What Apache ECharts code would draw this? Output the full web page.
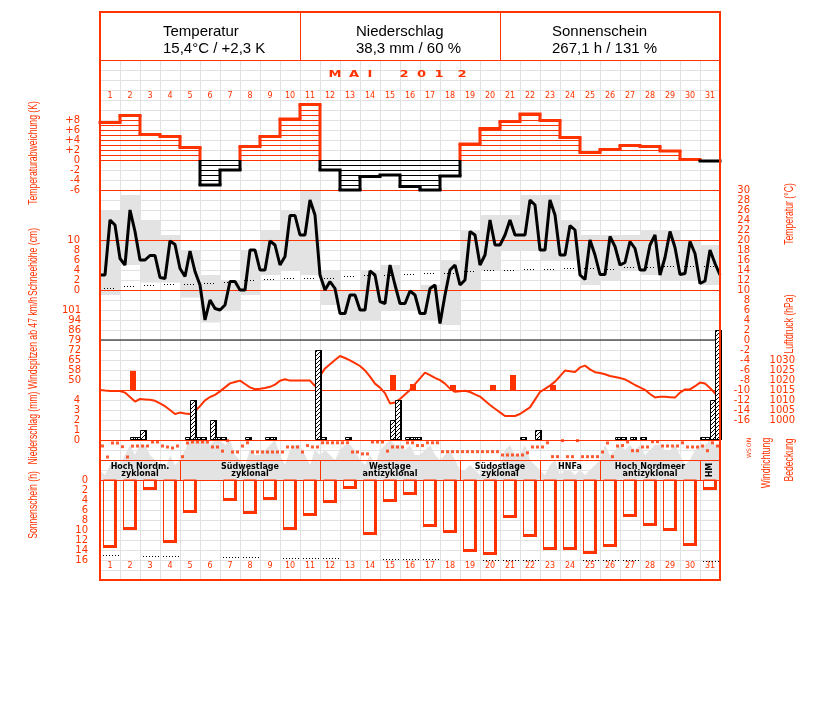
<!DOCTYPE html>
<html><head><meta charset="utf-8">
<script src="https://cdn.jsdelivr.net/npm/echarts/dist/echarts.min.js"></script>
<style>html,body{margin:0;padding:0;background:#fff;}#chart{width:827px;height:702px;}</style>
</head><body><div id="chart"></div>
<script>
// ================= DATA =================
const dayLabels = ['1','2','3','4','5','6','7','8','9','10','11','12','13','14','15','16','17','18','19','20','21','22','23','24','25','26','27','28','29','30','31'];
const yAnomalyTicks = ['+8','+6','+4','+2','0','-2','-4','-6'];
// daily temperature anomaly (K)
const anomaly = [7.5,8.9,5.1,4.7,2.5,-5.0,-2.0,2.7,4.7,8.2,11.1,-2.0,-6.0,-3.3,-3.0,-5.3,-6.0,-3.2,3.2,6.3,7.7,9.2,7.9,4.5,1.5,2.1,2.9,2.7,1.8,0.1,-0.2];
// 6-hourly air temperature (°C), 0h/6h/12h/18h per day, plus 1 June 0h
const temp6h = [
 13,13,24,23, 16.3,15,26,21.7, 16,16,16.9,16.9, 12.5,12.3,19.8,19.1, 14.3,12.7,17.8,13.7,
 11,4,8,6.3, 6,7,11.7,11.7, 10,10,18,18, 14,14,19.8,19, 15,16.7,24.9,24.9,
 21,21,28,25, 13,10,11.7,10.3, 5.3,5.3,9,9, 6,6,13.8,13, 7.7,7.3,15,11,
 7.3,7.3,9.8,9, 5.3,5.3,10.3,11, 3.3,9,14,15, 11,12,21.7,21, 15,17,24,19,
 19,21,24,21, 21,21,28,27, 18,18,28,25, 17,17,22.9,22, 13,12.1,20,17,
 13.1,13.1,20.7,18.7, 15,15.5,19.7,18.3, 14,14,19,21, 13,16.5,21.7,18.5, 13.1,13.3,19.7,17.3,
 11.3,11.8,18,15.3, 13];
// climatological daily mean (°C), dotted marks
const tempNormal = [10.5,10.9,11,11.2,11.3,11.5,11.7,12,12.2,12.4,12.5,12.4,12.9,13,13.1,13.3,13.4,13.5,13.8,14,14.1,14.2,14.3,14.4,14.4,14.3,14.6,14.7,14.8,14.9,14.9];
// grey daily band: minimum / maximum temperature (°C)
const bandLow  = [9,15,11.5,11.5,8.5,3.5,6,9,13,14,13,7,4,4,6,6,4,3,10,14,18,18,16,16,11,12,14,13,12,12,11];
const bandHigh = [26,29,24,21,18,13,12,18,22,26,30,14,10,14,15,10,11,16,22,25,25,29,29,24,21,21,21,22,22,20,19];
// wind gusts >= 47 km/h (km/h), null = none
const gusts = [null,57,null,null,null,null,null,null,null,null,null,null,null,null,54,47.5,null,46.8,null,46.8,54,null,46.8,null,null,null,null,null,null,null,null];
// 6-hourly air pressure (hPa), plus 1 June 0h
const pressure6h = [1015,1014.7,1014.5,1014.5, 1014.5,1013.7,1011.5,1009.2, 1010.5,1010.3,1010.1,1009.6, 1008.3,1006.9,1005,1003,
 1003.7,1003.3,1003,1004.5, 1006.9,1009.8,1011.5,1012.6, 1014.3,1016.3,1018.3,1019, 1019.7,1018,1016.3,1015.4,
 1015.6,1016,1016.6,1017.7, 1019.6,1020.4,1019.7,1019.7, 1019.7,1019.7,1019.7,1017, 1022,1025.8,1027.9,1030,
 1032,1031,1029.8,1028.4, 1027,1024.8,1021.7,1018.2, 1016.2,1013.4,1008.3,1008.8, 1010.5,1012.7,1015,1017.9,
 1020.8,1023.7,1022.4,1021.1, 1019.9,1018.2,1015.7,1014.1, 1014.4,1014.6,1014,1012.8, 1011.7,1009.6,1007.5,1005.6,
 1003.8,1002,1002,1002, 1003,1004.7,1006.3,1010.2, 1014,1015.6,1017.2,1019.2, 1021.9,1024.7,1024.4,1024,
 1026.3,1027.2,1025.3,1023.9, 1023.5,1022.9,1022,1021.5, 1021,1020.3,1018.9,1017.5, 1016.3,1015.1,1013,1011.3,
 1011.6,1011.6,1011.4,1011.2, 1013.7,1015.3,1015.3,1016.9, 1018.7,1018.2,1016,1013.4, 1010];
// precipitation per 6-hour slot: [slot index (0 = 1 May 0h), mm]
const precipEvents = [[6,0.25],[7,0.25],[8,1.0],[17,0.25],[18,4.0],[19,0.25],[20,0.25],[22,2.0],[23,0.25],[24,0.25],[29,0.25],[33,0.25],[34,0.25],[43,9.0],[44,0.25],[49,0.25],[58,2.0],[59,4.0],[61,0.25],[62,0.25],[63,0.25],[84,0.25],[87,1.0],[103,0.25],[104,0.25],[106,0.25],[108,0.25],[120,0.25],[121,0.25],[122,4.0],[123,11.0]];
// 6-hourly cloud cover (octas), plus 1 June 0h
const cloud6h = [
 2,1,3,4, 3,5,7,5, 7,7,5,4, 3,2,5,3, 4,6,8,8,
 8,8,7,8, 8,7,8,5, 4,3,6,5, 5,6,7,8, 5,3,6,7,
 7,5,3,6, 5,6,5,4, 6,7,7,6, 4,3,5,3, 6,7,8,7,
 7,6,7,5, 5,6,7,5, 4,5,6,4, 2,2,3,2, 1,2,3,2,
 3,6,7,5, 5,7,4,3, 2,1,3,4, 1,2,2,1, 2,1,2,3,
 4,7,5,6, 7,6,7,6, 7,5,6,7, 7,6,6,7, 5,3,4,6,
 7,7,8,7, 7];
// 6-hourly wind direction (degrees)
const windDir6h = [
 108,306,54,54, 120,306,110,108, 108,108,36,36, 108,126,144,108, 300,54,36,36,
 36,36,126,126, 200,12,216,216, 108,50,216,216, 216,216,216,216, 216,126,126,126,
 216,100,126,126, 50,50,50,50, 50,50,216,216, 250,250,36,36, 36,200,126,126,
 126,50,50,100, 100,50,50,50, 210,210,210,210, 210,210,210,210, 210,210,210,210,
 270,270,270,270, 270,230,126,126, 126,50,300,300, 12,300,300,12, 300,300,300,300,
 216,54,300,108, 100,36,193,193, 126,126,30,30, 108,108,108,108, 50,126,126,126,
 108,193,50,108];
// weather types (Großwetterlagen)
const wlFrom = [1,5,12,19,23,26,31];
const wlTo   = [4,11,18,22,25,30,31];
const wlTop  = ['Hoch Nordm.','Südwestlage','Westlage','Südostlage','HNFa','Hoch Nordmeer','HM'];
const wlBottom = ['zyklonal','zyklonal','antizyklonal','zyklonal','','antizyklonal',''];
// sunshine duration (h)
const sunshine = [13.6,10.0,2.0,12.6,6.6,0,4.2,6.8,3.9,10.0,7.2,4.6,1.8,11.0,4.4,3.0,9.4,10.6,14.4,15.0,7.6,11.4,14.0,14.0,14.8,13.4,7.4,9.2,10.2,13.2,1.9];
// astronomically possible sunshine (dotted marks)
const sunPossible = [14.9,null,15.1,15.1,null,null,15.3,15.3,null,15.5,15.5,15.5,null,null,15.7,15.7,15.7,null,null,15.9,15.9,15.9,null,null,16,16,16,null,null,null,16.2];

// ================= CHART =================
const RED='#ff3300', GRIDC='#e2e2e2', BAND='#e3e3e3';
const FONT='DejaVu Sans';
const chart = echarts.init(document.getElementById('chart'), null, {renderer:'canvas', width:827, height:702});

const hatch = document.createElement('canvas');
hatch.width=4; hatch.height=4;
(function(){const g=hatch.getContext('2d'); g.fillStyle='#fff'; g.fillRect(0,0,4,4); g.strokeStyle='#000'; g.lineWidth=1; g.beginPath(); g.moveTo(-1,5); g.lineTo(5,-1); g.stroke();})();

function grid(top,height){return {left:100, width:620, top:top, height:height, containLabel:false, outerBoundsMode:'none'};}
const grids=[grid(60,520),grid(100,90),grid(190,230),grid(290,100),grid(290,130),grid(290,150),grid(440,40),grid(440,20),grid(460,20),grid(480,80)];
const xAxes = grids.map((g,i)=>({type:'value', gridIndex:i, min:0, max:31, interval:1, position: i===9?'top':'bottom', show:i===0,
  axisLine:{show:false}, axisTick:{show:false}, axisLabel:{show:false}, splitLine:{show:i===0, lineStyle:{color:GRIDC,width:1}}}));
const dayLab = {color:RED, fontSize:8, fontFamily:FONT, interval:0, verticalAlign:'middle'};
xAxes.push({type:'category', gridIndex:1, position:'top', data:dayLabels, axisLine:{show:false}, axisTick:{show:false}, splitLine:{show:false}, axisLabel:Object.assign({margin:4},dayLab)});
xAxes.push({type:'category', gridIndex:9, position:'bottom', data:dayLabels, axisLine:{show:false}, axisTick:{show:false}, splitLine:{show:false}, axisLabel:Object.assign({margin:6},dayLab)});

const plain = {axisLine:{show:false}, axisTick:{show:false}, splitLine:{show:false}};
function lab(o){return Object.assign({color:RED, fontSize:10, fontFamily:FONT}, o);}
const yAxes = [
 Object.assign({type:'value', gridIndex:0, min:0, max:52, interval:1, inverse:true, axisLabel:{show:false}}, plain, {splitLine:{show:true, lineStyle:{color:GRIDC,width:1}}}),
 Object.assign({type:'value', gridIndex:1, min:-6, max:12, interval:2, axisLabel:lab({margin:20, formatter:v=>{const i=(8-v)/2; return yAnomalyTicks[i]||'';}})}, plain),
 Object.assign({type:'value', gridIndex:2, min:-16, max:30, interval:2, position:'right', axisLabel:lab({margin:30, align:'right'})}, plain),
 Object.assign({type:'value', gridIndex:2, min:-26, max:20, interval:2, position:'left', axisLabel:lab({margin:20, formatter:v=>(v>=0&&v<=10)?String(v):''})}, plain),
 Object.assign({type:'value', gridIndex:3, min:43.2, max:115.2, interval:7.2, position:'left', axisLabel:lab({margin:19, formatter:v=>(v>45&&v<105)?String(Math.round(v)):''})}, plain),
 Object.assign({type:'value', gridIndex:4, min:1000, max:1065, interval:5, position:'right', axisLabel:lab({margin:75, align:'right', formatter:v=>v<=1030?String(v):''})}, plain),
 Object.assign({type:'value', gridIndex:5, min:0, max:15, interval:1, position:'left', axisLabel:lab({margin:20, formatter:v=>v<=4?String(v):''})}, plain),
 {type:'value', gridIndex:6, min:0, max:8, show:false},
 Object.assign({type:'value', gridIndex:7, min:0, max:360, interval:90, inverse:true, position:'right', axisLabel:{color:RED, fontSize:6, fontFamily:FONT, margin:26, rotate:90, formatter:v=>({0:'N',90:'O',180:'S',270:'W',360:'N'})[v]||''}}, plain),
 {type:'value', gridIndex:8, min:0, max:1, show:false},
 Object.assign({type:'value', gridIndex:9, min:0, max:16, interval:2, inverse:true, position:'left', axisLabel:lab({margin:12})}, plain)
];

const crisp = v => Math.round(v)+0.5;
const series = [];
// 0: anomaly hatch
series.push({type:'custom', xAxisIndex:1, yAxisIndex:1, z:3, data:anomaly.map((v,i)=>[i,v]),
 renderItem:(p,api)=>{
  const i=api.value(0), v=api.value(1);
  const x0=api.coord([i,0])[0], x1=api.coord([i+1,0])[0];
  const col=v>=0?RED:'#000'; const s=v>=0?1:-1;
  const ch=[]; const n=Math.floor(Math.abs(v));
  for(let k=0;k<=n;k++){const y=crisp(api.coord([0,s*k])[1]); ch.push({type:'line', shape:{x1:x0,y1:y,x2:x1,y2:y}, style:{stroke:col,lineWidth:1}});}
  return {type:'group', children:ch};
 }});
// 1: anomaly step outline
series.push({type:'custom', xAxisIndex:1, yAxisIndex:1, z:5, data:anomaly.map((v,i)=>[i,v,i<30?anomaly[i+1]:v]),
 renderItem:(p,api)=>{
  const i=api.value(0), v=api.value(1), nv=api.value(2);
  const x0=api.coord([i,0])[0], x1=api.coord([i+1,0])[0];
  const yv=api.coord([0,v])[1], y0=api.coord([0,0])[1], yn=api.coord([0,nv])[1];
  const ch=[{type:'line', shape:{x1:x0-1.5,y1:yv,x2:x1+1.5,y2:yv}, style:{stroke:v>=0?RED:'#000', lineWidth:3}}];
  if(i<30){
    const top=Math.min(yv,yn), bot=Math.max(yv,yn);
    if(top<y0) ch.push({type:'line', shape:{x1:x1,y1:top,x2:x1,y2:Math.min(bot,y0)}, style:{stroke:RED,lineWidth:3}});
    if(bot>y0) ch.push({type:'line', shape:{x1:x1,y1:Math.max(top,y0),x2:x1,y2:bot}, style:{stroke:'#000',lineWidth:3}});
  }
  return {type:'group', children:ch};
 }});
// 2: temperature grey band
series.push({type:'custom', xAxisIndex:2, yAxisIndex:2, z:1, data:bandLow.map((v,i)=>[i,v,bandHigh[i]]),
 renderItem:(p,api)=>{
  const i=api.value(0); const a=api.coord([i,api.value(2)]), b=api.coord([i+1,api.value(1)]);
  return {type:'rect', shape:{x:a[0], y:a[1], width:b[0]-a[0], height:b[1]-a[1]}, style:{fill:BAND}};
 }});
// 3: climatological mean dotted
series.push({type:'custom', xAxisIndex:2, yAxisIndex:2, z:4, data:tempNormal.map((v,i)=>[i,v]),
 renderItem:(p,api)=>{
  const i=api.value(0); const y=crisp(api.coord([0,api.value(1)])[1]);
  const x0=api.coord([i+0.2,0])[0], x1=api.coord([i+0.8,0])[0];
  return {type:'line', shape:{x1:x0,y1:y,x2:x1,y2:y}, style:{stroke:'#000', lineWidth:1, lineDash:[1,2]}};
 }});
// 4: temperature line
series.push({type:'line', xAxisIndex:2, yAxisIndex:2, z:6, symbol:'none', data:temp6h.map((v,k)=>[k/4,v]), lineStyle:{color:'#000', width:3}});
// 5: wind gusts
series.push({type:'custom', xAxisIndex:3, yAxisIndex:4, z:4, data:gusts.map((v,i)=>[i,v]).filter(d=>d[1]!=null),
 renderItem:(p,api)=>{
  const i=api.value(0); const a=api.coord([i+0.5,api.value(1)]), b=api.coord([i+0.8,43.2]);
  return {type:'rect', shape:{x:a[0], y:a[1], width:b[0]-a[0], height:b[1]-a[1]}, style:{fill:RED}};
 }});
// 6: wind threshold line
series.push({type:'line', xAxisIndex:3, yAxisIndex:4, z:4, symbol:'none', data:[[0,79.2],[31,79.2]], lineStyle:{color:'#000', width:1}});
// 7: pressure
series.push({type:'line', xAxisIndex:4, yAxisIndex:5, z:5, symbol:'none', data:pressure6h.map((v,k)=>[k/4,v]), lineStyle:{color:RED, width:2}});
// 8: precipitation
series.push({type:'custom', xAxisIndex:5, yAxisIndex:6, z:6, data:precipEvents.map(d=>[d[0]/4,d[1]]),
 renderItem:(p,api)=>{
  const t=api.value(0), mm=api.value(1);
  const x0=Math.round(api.coord([t,0])[0]), x1=Math.round(api.coord([t+1/3,0])[0]);
  const y0=Math.round(api.coord([0,0])[1]), y1=Math.round(api.coord([0,mm])[1]);
  const h=Math.max(y0-y1,3);
  return {type:'group', children:[
   {type:'rect', shape:{x:x0+0.5, y:y0-h+0.5, width:x1-x0-1, height:h-1}, style:{fill:{image:hatch, repeat:'repeat'}, stroke:'#000', lineWidth:1}},
   {type:'rect', shape:{x:x1-2, y:y0-h, width:2, height:h}, style:{fill:'#000'}}
  ]};
 }});
// 9: cloud cover area
series.push({type:'line', xAxisIndex:6, yAxisIndex:7, z:1, symbol:'none', data:cloud6h.map((v,k)=>[k/4,v]), lineStyle:{width:0}, areaStyle:{color:BAND, opacity:1}});
// 10: wind direction
series.push({type:'scatter', xAxisIndex:7, yAxisIndex:8, z:5, symbol:'rect', symbolSize:3, data:windDir6h.map((v,k)=>[k/4+0.125,v]), itemStyle:{color:RED}});
// 11: weather types
series.push({type:'custom', xAxisIndex:8, yAxisIndex:9, z:4, data:wlFrom.map((f,i)=>[f-1,wlTo[i],i]),
 renderItem:(p,api)=>{
  const a=api.value(0), b=api.value(1), i=api.value(2);
  const xa=api.coord([a,0])[0], xb=api.coord([b,0])[0];
  const yt=api.coord([0,1])[1], yb=api.coord([0,0])[1];
  const cx=(xa+xb)/2; const ch=[];
  if(b<31) ch.push({type:'line', shape:{x1:crisp(xb),y1:yt,x2:crisp(xb),y2:yb}, style:{stroke:RED,lineWidth:1}});
  const f='bold 8px '+FONT;
  if(b-a<1.5){
    ch.push({type:'text', x:cx, y:(yt+yb)/2, rotation:Math.PI/2, style:{text:wlTop[i], font:f, fill:'#000', align:'center', verticalAlign:'middle'}});
  } else {
    ch.push({type:'text', x:cx, y:yt+6.5, style:{text:wlTop[i], font:f, fill:'#000', align:'center', verticalAlign:'middle'}});
    if(wlBottom[i]) ch.push({type:'text', x:cx, y:yt+13.5, style:{text:wlBottom[i], font:f, fill:'#000', align:'center', verticalAlign:'middle'}});
  }
  return {type:'group', children:ch};
 }});
// 12: sunshine bars
series.push({type:'custom', xAxisIndex:9, yAxisIndex:10, z:4, data:sunshine.map((v,i)=>[i,v]),
 renderItem:(p,api)=>{
  const i=api.value(0), h=api.value(1); if(!h) return null;
  const x0=Math.round(api.coord([i+1/6,0])[0]), x1=Math.round(api.coord([i+5/6,0])[0]);
  const y0=Math.round(api.coord([0,0])[1]), y1=Math.round(api.coord([0,h])[1]);
  return {type:'group', children:[
   {type:'rect', shape:{x:x0+0.5, y:y0, width:x1-x0-1, height:y1-y0-0.5}, style:{fill:'none', stroke:RED, lineWidth:1}},
   {type:'rect', shape:{x:x1-3, y:y0, width:3, height:y1-y0}, style:{fill:RED}},
   {type:'rect', shape:{x:x0, y:y1-3, width:x1-x0, height:3}, style:{fill:RED}}
  ]};
 }});
// 13: possible sunshine dotted
series.push({type:'custom', xAxisIndex:9, yAxisIndex:10, z:4, data:sunPossible.map((v,i)=>[i,v]).filter(d=>d[1]!=null),
 renderItem:(p,api)=>{
  const i=api.value(0); const y=crisp(api.coord([0,api.value(1)])[1]);
  const x0=api.coord([i+0.15,0])[0], x1=api.coord([i+1,0])[0];
  return {type:'line', shape:{x1:x0,y1:y,x2:x1,y2:y}, style:{stroke:'#000', lineWidth:1, lineDash:[1,2]}};
 }});

// graphic decorations
const G=[];
const hl=(y,c,w)=>G.push({type:'line', z:3, shape:{x1:100,y1:y+0.5,x2:720,y2:y+0.5}, style:{stroke:c||RED, lineWidth:w||1}});
[60,190,240,290,390,440,460,480].forEach(y=>hl(y));
G.push({type:'rect', z:10, shape:{x:100,y:12,width:620,height:568}, style:{fill:'none', stroke:RED, lineWidth:2}});
G.push({type:'line', z:10, shape:{x1:300.5,y1:12,x2:300.5,y2:60}, style:{stroke:RED,lineWidth:1}});
G.push({type:'line', z:10, shape:{x1:500.5,y1:12,x2:500.5,y2:60}, style:{stroke:RED,lineWidth:1}});
const head=[['Temperatur','15,4°C / +2,3 K',163],['Niederschlag','38,3 mm / 60 %',356],['Sonnenschein','267,1 h / 131 %',552]];
head.forEach(h=>{
 G.push({type:'text', z:10, x:h[2], y:32, style:{text:h[0], font:'15px Liberation Sans', fill:'#000', align:'left', verticalAlign:'middle'}});
 G.push({type:'text', z:10, x:h[2], y:49, style:{text:h[1], font:'15px Liberation Sans', fill:'#000', align:'left', verticalAlign:'middle'}});
});
const mai=[['M',335],['A',354],['I',370],['2',404],['0',421.5],['1',439],['2',462]];
mai.forEach(m=>G.push({type:'text', z:10, x:m[1], y:75, scaleX:1.45, style:{text:m[0], font:'bold 9px '+FONT, fill:RED, align:'center', verticalAlign:'middle'}}));
const vt=(t,x,y,s)=>G.push({type:'text', z:10, x:x, y:y, rotation:Math.PI/2, scaleX:s||0.72, style:{text:t, font:'12px Liberation Sans', fill:RED, align:'center', verticalAlign:'middle'}});
vt('Temperaturabweichung (K)',34,153);
vt('Schneehöhe (cm)',34,262);
vt('Windspitzen ab 47 km/h',34,343);
vt('Niederschlag (mm)',34,428);
vt('Sonnenschein (h)',34,505);
vt('Temperatur (°C)',790,214);
vt('Luftdruck (hPa)',790,324);
vt('Windrichtung',767,463);
vt('Bedeckung',790,460);

chart.setOption({
 animation:false, backgroundColor:'#fff',
 grid:grids, xAxis:xAxes, yAxis:yAxes, series:series, graphic:{elements:G}
});
</script></body></html>
